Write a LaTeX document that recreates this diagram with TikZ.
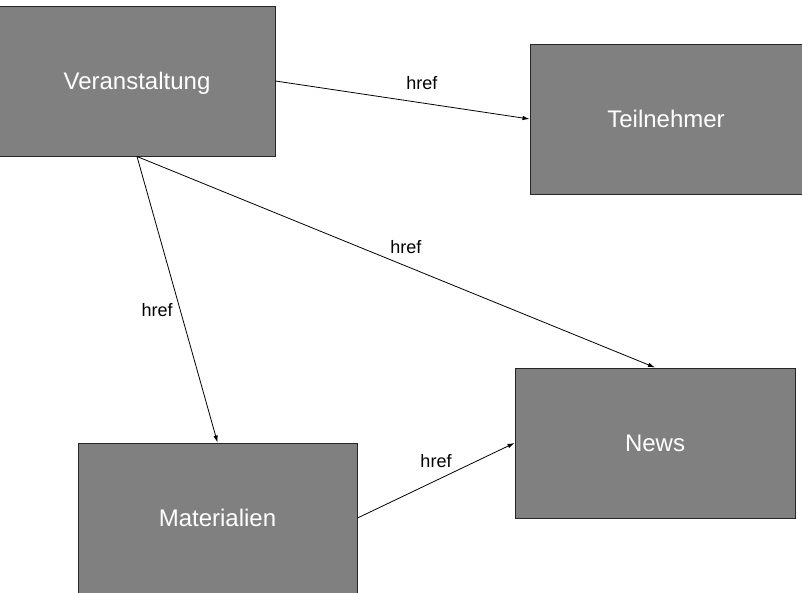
\documentclass[tikz,border=0pt]{standalone}
\usepackage{fontspec}
\setmainfont{Liberation Sans}
\usetikzlibrary{arrows.meta}
\definecolor{boxgray}{HTML}{808080}
\begin{document}
\begin{tikzpicture}[x=1pt,y=-1pt,
  entity/.style={draw=black!85, line width=1pt, fill=boxgray, text=white,
    font=\fontsize{24}{28}\selectfont, minimum height=150pt, inner sep=0pt,
    text height=17.2pt, text depth=0pt},
  link/.style={draw=black, line width=0.8pt, -{Latex[length=7pt,width=4.5pt]}},
  lbl/.style={font=\fontsize{18}{21}\selectfont, text=black, inner sep=0pt}]
\useasboundingbox (0,0) rectangle (802,592);
\fill[white] (0,0) rectangle (802,592);
\node[entity, minimum width=276pt] (V) at (137,81) {Veranstaltung};
\node[entity, minimum width=272pt] (T) at (666,119) {Teilnehmer};
\node[entity, minimum width=279pt] (M) at (217.5,518) {Materialien};
\node[entity, minimum width=280pt] (N) at (655,443) {News};
\draw[link] (V.east) -- node[lbl, pos=0.576, yshift=20pt] {href} (T.west);
\draw[link] (V.south) -- node[lbl, pos=0.519, yshift=19pt] {href} (N.north);
\draw[link] (V.south) -- node[lbl, pos=0.537, xshift=-23pt] {href} (M.north);
\draw[link] (M.east) -- node[lbl, pos=0.5, yshift=19pt] {href} (N.west);
\end{tikzpicture}
\end{document}
